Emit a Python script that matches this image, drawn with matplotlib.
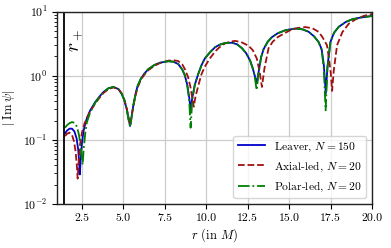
import numpy as np
import matplotlib
matplotlib.use('Agg')
from matplotlib import pyplot as plt

plt.rcParams['font.family'] = 'serif'
plt.rcParams['font.serif'] = ['cmr10', 'DejaVu Serif']
plt.rcParams['mathtext.fontset'] = 'cm'
plt.rcParams['axes.formatter.use_mathtext'] = True

r_plus = 1.436

# Leaver, N = 150
r_leaver = [1.48, 1.6, 1.75, 1.9, 2.05, 2.18, 2.28, 2.33, 2.37, 2.42, 2.5, 2.6, 2.7, 2.8,
            3.0, 3.3, 3.6, 3.8, 4.1, 4.4, 4.7, 4.9, 5.05, 5.2, 5.3, 5.4, 5.5, 5.6, 5.75,
            5.86, 6.05, 6.26, 6.5, 6.86, 7.2, 7.7, 8.0, 8.3, 8.55, 8.7, 8.85, 8.97, 9.05,
            9.15, 9.3, 9.5, 9.7, 9.9, 10.2, 10.53, 10.8, 11.13, 11.54, 11.85, 12.14, 12.4,
            12.64, 12.8, 12.92, 13.04, 13.15, 13.3, 13.45, 13.7, 13.95, 14.3, 14.76, 15.36,
            15.8, 16.17, 16.5, 16.77, 16.95, 17.08, 17.2, 17.3, 17.48, 17.7, 17.98, 18.4,
            18.79, 19.3, 19.9, 20.0]
im_leaver = [0.127, 0.140, 0.150, 0.150, 0.135, 0.105, 0.068, 0.045, 0.029, 0.048, 0.09,
             0.14, 0.18, 0.22, 0.29, 0.39, 0.49, 0.56, 0.64, 0.67, 0.62, 0.52, 0.42, 0.30,
             0.22, 0.165, 0.24, 0.35, 0.55, 0.70, 0.90, 1.08, 1.27, 1.47, 1.60, 1.69, 1.66,
             1.53, 1.25, 1.02, 0.72, 0.45, 0.30, 0.45, 0.72, 1.05, 1.45, 1.85, 2.3, 2.80,
             3.05, 3.25, 3.28, 3.10, 2.70, 2.25, 1.72, 1.30, 1.0, 0.76, 1.15, 1.95, 2.6,
             3.4, 4.0, 4.6, 5.13, 5.46, 5.3, 4.85, 4.1, 3.35, 2.6, 1.5, 0.53, 1.4, 3.38,
             4.7, 5.8, 6.9, 7.6, 8.1, 8.5, 8.55]

# Axial-led, N = 20
r_axial = [1.48, 1.6, 1.75, 1.9, 2.02, 2.12, 2.19, 2.24, 2.3, 2.4, 2.5, 2.65, 2.8, 3.0,
           3.3, 3.6, 3.8, 4.1, 4.4, 4.7, 4.9, 5.05, 5.2, 5.3, 5.41, 5.5, 5.6, 5.75, 5.86,
           6.05, 6.26, 6.5, 6.86, 7.2, 7.7, 8.0, 8.3, 8.55, 8.7, 8.9, 9.05, 9.15, 9.24,
           9.35, 9.5, 9.7, 9.9, 10.2, 10.53, 10.8, 11.13, 11.45, 11.74, 12.1, 12.54, 12.8,
           13.04, 13.2, 13.35, 13.5, 13.75, 14.0, 14.3, 14.7, 15.1, 15.5, 15.97, 16.4,
           16.77, 17.0, 17.27, 17.4, 17.5, 17.58, 17.68, 17.88, 18.2, 18.59, 19.0, 19.5,
           20.0]
im_axial = [0.115, 0.125, 0.13, 0.12, 0.095, 0.065, 0.04, 0.025, 0.045, 0.09, 0.13, 0.18,
            0.22, 0.28, 0.37, 0.47, 0.54, 0.62, 0.66, 0.62, 0.53, 0.43, 0.31, 0.23, 0.17,
            0.24, 0.34, 0.52, 0.66, 0.87, 1.04, 1.22, 1.43, 1.58, 1.72, 1.75, 1.70, 1.50,
            1.28, 0.95, 0.65, 0.45, 0.33, 0.48, 0.68, 1.05, 1.38, 1.85, 2.4, 2.8, 3.2, 3.42,
            3.5, 3.35, 2.95, 2.5, 1.86, 1.2, 0.67, 1.3, 2.7, 3.4, 4.0, 4.6, 5.2, 5.55, 5.75,
            5.5, 4.84, 4.0, 3.0, 1.8, 1.1, 0.58, 1.2, 3.0, 4.8, 6.5, 7.6, 8.6, 9.2]

# Polar-led, N = 20
r_polar = [1.48, 1.6, 1.75, 1.9, 2.05, 2.2, 2.32, 2.42, 2.5, 2.54, 2.6, 2.7, 2.8, 3.0,
           3.3, 3.6, 3.8, 4.1, 4.4, 4.7, 4.9, 5.05, 5.2, 5.3, 5.4, 5.5, 5.6, 5.75, 5.86,
           6.05, 6.26, 6.5, 6.86, 7.2, 7.7, 8.0, 8.3, 8.55, 8.7, 8.85, 8.97, 9.05, 9.15,
           9.3, 9.5, 9.7, 9.9, 10.2, 10.53, 10.8, 11.13, 11.54, 11.85, 12.14, 12.4, 12.64,
           12.8, 12.92, 13.03, 13.15, 13.3, 13.45, 13.7, 13.95, 14.3, 14.76, 15.36, 15.8,
           16.17, 16.5, 16.77, 16.95, 17.08, 17.19, 17.3, 17.48, 17.7, 17.98, 18.4, 18.79,
           19.3, 19.9, 20.0]
im_polar = [0.155, 0.17, 0.183, 0.19, 0.185, 0.16, 0.12, 0.08, 0.05, 0.041, 0.07, 0.13,
            0.19, 0.27, 0.38, 0.49, 0.56, 0.64, 0.67, 0.62, 0.52, 0.42, 0.30, 0.21, 0.16,
            0.23, 0.35, 0.55, 0.70, 0.90, 1.08, 1.27, 1.47, 1.60, 1.69, 1.66, 1.53, 1.25,
            1.02, 0.70, 0.40, 0.155, 0.42, 0.72, 1.05, 1.45, 1.85, 2.3, 2.80, 3.05, 3.25,
            3.28, 3.10, 2.70, 2.25, 1.72, 1.30, 0.95, 0.60, 1.1, 1.95, 2.6, 3.4, 4.0, 4.6,
            5.13, 5.46, 5.3, 4.85, 4.1, 3.35, 2.5, 1.3, 0.29, 1.3, 3.38, 4.7, 5.8, 6.9, 7.6,
            8.1, 8.5, 8.55]

fig = plt.figure(figsize=(3.91, 2.48), dpi=100)
ax = fig.add_axes([0.146, 0.177, 0.806, 0.776])

ax.plot(r_leaver, im_leaver, '-', color='mediumblue', lw=1.3, label=r'Leaver, $N = 150$')
ax.plot(r_axial, im_axial, '--', color='#a01010', lw=1.3, label=r'Axial-led, $N = 20$')
ax.plot(r_polar, im_polar, '-.', color='green', lw=1.3, label=r'Polar-led, $N = 20$')

ax.axvline(r_plus, color='black', lw=1.3)
ax.text(r_plus + 0.15, 3.6, r'$r_+$', rotation=90, fontsize=14, ha='left', va='center')

ax.set_yscale('log')
ax.set_xlim(1.0, 20.0)
ax.set_ylim(1e-2, 1e1)
ax.set_xticks([2.5, 5.0, 7.5, 10.0, 12.5, 15.0, 17.5, 20.0])
ax.set_xticklabels(['2.5', '5.0', '7.5', '10.0', '12.5', '15.0', '17.5', '20.0'])
ax.grid(True, which='major', color='#cccccc', lw=0.9)
ax.set_axisbelow(True)
ax.tick_params(labelsize=8.5, direction='out', top=False, right=False)
ax.tick_params(which='minor', length=2)
ax.tick_params(which='major', length=3.5)
for s in ax.spines.values():
    s.set_color('#222222')
    s.set_linewidth(1.0)

ax.set_xlabel(r'$r$ (in $M$)', fontsize=9, labelpad=2)
ax.set_ylabel(r'$|\;\mathrm{Im}\;\psi|$', fontsize=9, labelpad=4)
ax.legend(loc='lower right', fontsize=8.3, framealpha=0.8, handlelength=2.3)

plt.savefig('out.png', dpi=100)
plt.close()
